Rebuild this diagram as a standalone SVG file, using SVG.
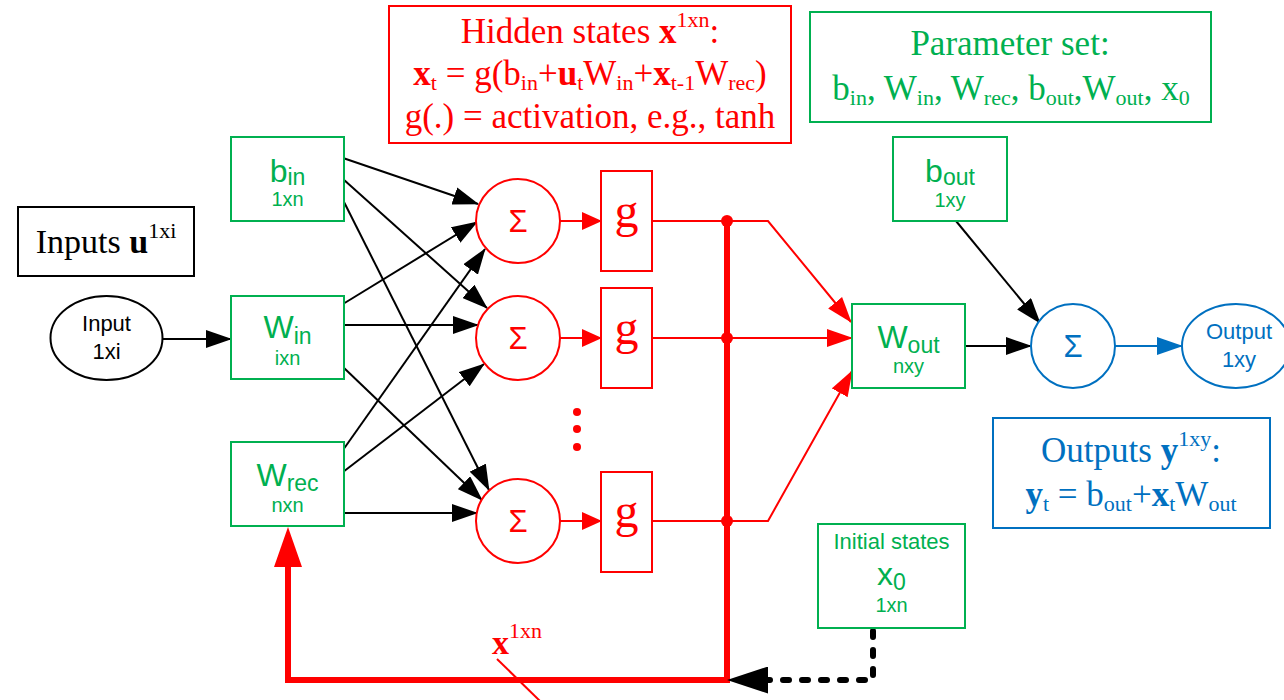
<svg xmlns="http://www.w3.org/2000/svg" width="1284" height="700" viewBox="0 0 1284 700">
<defs>
<style>
.gbox{fill:#fff;stroke:#00B050;stroke-width:2}
.rbox{fill:#fff;stroke:#FF0000;stroke-width:2}
.bbox{fill:#fff;stroke:#0070C0;stroke-width:2}
.kbox{fill:#fff;stroke:#000;stroke-width:2}
.sans{font-family:"Liberation Sans",Arial,sans-serif}
.serif{font-family:"Liberation Serif","Times New Roman",serif}
.g{fill:#00B050}
.r{fill:#FF0000}
.b{fill:#0070C0}
.k{fill:#000}
.kl{stroke:#000;stroke-width:2;fill:none}
.rl{stroke:#FF0000;stroke-width:2;fill:none}
.bl{stroke:#0070C0;stroke-width:2;fill:none}
.bd{font-weight:bold}
.mid{text-anchor:middle}
</style>
<marker id="ak" markerUnits="userSpaceOnUse" markerWidth="26" markerHeight="18" refX="25" refY="9" orient="auto"><path d="M0,0L26,9L0,18z" fill="#000"/></marker>
<marker id="ar" markerUnits="userSpaceOnUse" markerWidth="26" markerHeight="18" refX="25" refY="9" orient="auto"><path d="M0,0L26,9L0,18z" fill="#FF0000"/></marker>
<marker id="ars" markerUnits="userSpaceOnUse" markerWidth="20" markerHeight="18" refX="19" refY="9" orient="auto"><path d="M0,0L20,9L0,18z" fill="#FF0000"/></marker>
<marker id="ab" markerUnits="userSpaceOnUse" markerWidth="26" markerHeight="18" refX="25" refY="9" orient="auto"><path d="M0,0L26,9L0,18z" fill="#0070C0"/></marker>
<marker id="aR" markerUnits="userSpaceOnUse" markerWidth="40" markerHeight="28" refX="0" refY="14" orient="auto"><path d="M0,0L40,14L0,28z" fill="#FF0000"/></marker>
<marker id="aK" markerUnits="userSpaceOnUse" markerWidth="41" markerHeight="27" refX="0" refY="13.5" orient="auto"><path d="M0,0L41,13.5L0,27z" fill="#000"/></marker>
</defs>
<rect x="0" y="0" width="1284" height="700" fill="#fff"/>

<g id="connectors">
  <line class="kl" x1="162" y1="339" x2="231" y2="339" marker-end="url(#ak)"/>
  <line class="kl" x1="343" y1="158" x2="478" y2="204" marker-end="url(#ak)"/>
  <line class="kl" x1="343" y1="179" x2="487" y2="308" marker-end="url(#ak)"/>
  <line class="kl" x1="343" y1="200" x2="489" y2="490" marker-end="url(#ak)"/>
  <line class="kl" x1="343" y1="304" x2="477" y2="222" marker-end="url(#ak)"/>
  <line class="kl" x1="343" y1="325" x2="478" y2="325" marker-end="url(#ak)"/>
  <line class="kl" x1="343" y1="367" x2="482" y2="500" marker-end="url(#ak)"/>
  <line class="kl" x1="343" y1="450" x2="485" y2="249" marker-end="url(#ak)"/>
  <line class="kl" x1="343" y1="472" x2="484" y2="364" marker-end="url(#ak)"/>
  <line class="kl" x1="343" y1="513" x2="477" y2="513" marker-end="url(#ak)"/>

  <line class="rl" x1="560" y1="221" x2="601" y2="221" marker-end="url(#ars)"/>
  <line class="rl" x1="560" y1="338" x2="601" y2="338" marker-end="url(#ars)"/>
  <line class="rl" x1="560" y1="521" x2="601" y2="521" marker-end="url(#ars)"/>

  <polyline class="rl" points="652,221 768,221 851,322" marker-end="url(#ar)"/>
  <line class="rl" x1="652" y1="338" x2="852" y2="338" marker-end="url(#ar)"/>
  <polyline class="rl" points="652,521 768,521 852,371" marker-end="url(#ar)"/>

  <path d="M727,221V680H288V567" fill="none" stroke="#FF0000" stroke-width="6" marker-end="url(#aR)"/>
  <circle cx="727" cy="221" r="6" fill="#FF0000"/>
  <circle cx="727" cy="338" r="6" fill="#FF0000"/>
  <circle cx="727" cy="521" r="6" fill="#FF0000"/>

  <path d="M873,631V680H768" fill="none" stroke="#000" stroke-width="6" stroke-dasharray="6,13" stroke-linecap="round" marker-end="url(#aK)"/>

  <line class="kl" x1="965" y1="346" x2="1031" y2="346" marker-end="url(#ak)"/>
  <line class="kl" x1="956" y1="221" x2="1040" y2="323" marker-end="url(#ak)"/>
  <line class="bl" x1="1115" y1="346" x2="1182" y2="346" marker-end="url(#ab)"/>

  <line class="rl" x1="497" y1="659" x2="541" y2="702"/>
  <text class="serif r" x="492" y="654" font-size="34"><tspan class="bd">x</tspan><tspan font-size="22" dy="-16">1xn</tspan></text>
</g>

<g id="hidden-states">
  <rect class="rbox" x="389" y="6" width="402" height="137"/>
  <text class="serif r mid" x="590" y="43" font-size="35">Hidden states <tspan class="bd">x</tspan><tspan font-size="22" dy="-16">1xn</tspan><tspan dy="16">:</tspan></text>
  <text class="serif r mid" x="590" y="85" font-size="35"><tspan class="bd">x</tspan><tspan font-size="22" dy="5">t</tspan><tspan dy="-5"> = g(b</tspan><tspan font-size="22" dy="5">in</tspan><tspan dy="-5">+</tspan><tspan class="bd">u</tspan><tspan font-size="22" dy="5">t</tspan><tspan dy="-5">W</tspan><tspan font-size="22" dy="5">in</tspan><tspan dy="-5">+</tspan><tspan class="bd">x</tspan><tspan font-size="22" dy="5">t-1</tspan><tspan dy="-5">W</tspan><tspan font-size="22" dy="5">rec</tspan><tspan dy="-5">)</tspan></text>
  <text class="serif r mid" x="590" y="128" font-size="35">g(.) = activation, e.g., tanh</text>
</g>

<g id="parameter-set">
  <rect class="gbox" x="810" y="12" width="401" height="110"/>
  <text class="serif g mid" x="1010" y="55" font-size="35">Parameter set:</text>
  <text class="serif g mid" x="1011" y="100" font-size="35">b<tspan font-size="22" dy="5">in</tspan><tspan dy="-5">, W</tspan><tspan font-size="22" dy="5">in</tspan><tspan dy="-5">, W</tspan><tspan font-size="22" dy="5">rec</tspan><tspan dy="-5">, b</tspan><tspan font-size="22" dy="5">out</tspan><tspan dy="-5">,W</tspan><tspan font-size="22" dy="5">out</tspan><tspan dy="-5">, x</tspan><tspan font-size="22" dy="5">0</tspan></text>
</g>

<g id="inputs-label">
  <rect class="kbox" x="18" y="207" width="176" height="69"/>
  <text class="serif k mid" x="106" y="253" font-size="34">Inputs <tspan class="bd">u</tspan><tspan font-size="22" dy="-15">1xi</tspan></text>
</g>

<g id="input">
  <ellipse cx="106.5" cy="338" rx="56" ry="42" fill="#fff" stroke="#000" stroke-width="2"/>
  <text class="sans k mid" x="106.5" y="331" font-size="22">Input</text>
  <text class="sans k mid" x="106.5" y="359" font-size="22">1xi</text>
</g>

<g id="b-in">
  <rect class="gbox" x="231" y="137" width="113" height="84"/>
  <text class="sans g mid" x="287.5" y="182" font-size="32">b<tspan font-size="23" dy="3">in</tspan></text>
  <text class="sans g mid" x="287.5" y="206" font-size="20">1xn</text>
</g>

<g id="w-in">
  <rect class="gbox" x="231" y="296" width="113" height="83"/>
  <text class="sans g mid" x="287.5" y="338" font-size="32">W<tspan font-size="23" dy="6">in</tspan></text>
  <text class="sans g mid" x="287.5" y="365" font-size="20">ixn</text>
</g>

<g id="w-rec">
  <rect class="gbox" x="231" y="442" width="113" height="84"/>
  <text class="sans g mid" x="287.5" y="486" font-size="32">W<tspan font-size="23" dy="5">rec</tspan></text>
  <text class="sans g mid" x="287.5" y="512" font-size="20">nxn</text>
</g>

<g id="sum1">
  <circle cx="518" cy="221" r="42" fill="#fff" stroke="#FF0000" stroke-width="2"/>
  <text class="sans r mid" x="518" y="232" font-size="31">Σ</text>
</g>
<g id="sum2">
  <circle cx="518" cy="338" r="42" fill="#fff" stroke="#FF0000" stroke-width="2"/>
  <text class="sans r mid" x="518" y="349" font-size="31">Σ</text>
</g>
<g id="sum3">
  <circle cx="518" cy="521" r="42" fill="#fff" stroke="#FF0000" stroke-width="2"/>
  <text class="sans r mid" x="518" y="532" font-size="31">Σ</text>
</g>

<g id="g1">
  <rect class="rbox" x="601" y="171" width="51" height="100"/>
  <text class="serif r mid" x="626.5" y="227" font-size="48">g</text>
</g>
<g id="g2">
  <rect class="rbox" x="601" y="288" width="51" height="100"/>
  <text class="serif r mid" x="626.5" y="344" font-size="48">g</text>
</g>
<g id="g3">
  <rect class="rbox" x="601" y="472" width="51" height="100"/>
  <text class="serif r mid" x="626.5" y="527" font-size="48">g</text>
</g>

<g id="ellipsis">
  <circle cx="577" cy="412" r="4" fill="#FF0000"/>
  <circle cx="577" cy="429" r="4" fill="#FF0000"/>
  <circle cx="577" cy="447" r="4" fill="#FF0000"/>
</g>

<g id="b-out">
  <rect class="gbox" x="893" y="137" width="114" height="84"/>
  <text class="sans g mid" x="950" y="182" font-size="32">b<tspan font-size="23" dy="3">out</tspan></text>
  <text class="sans g mid" x="950" y="207" font-size="20">1xy</text>
</g>

<g id="w-out">
  <rect class="gbox" x="852" y="304" width="113" height="84"/>
  <text class="sans g mid" x="908.5" y="348" font-size="32">W<tspan font-size="23" dy="5">out</tspan></text>
  <text class="sans g mid" x="908.5" y="373" font-size="20">nxy</text>
</g>

<g id="sum-out">
  <circle cx="1073" cy="346" r="42" fill="#fff" stroke="#0070C0" stroke-width="2"/>
  <text class="sans b mid" x="1073" y="357" font-size="31">Σ</text>
</g>

<g id="output">
  <ellipse cx="1236" cy="346" rx="54" ry="42" fill="#fff" stroke="#0070C0" stroke-width="2"/>
  <text class="sans b mid" x="1239" y="339" font-size="22">Output</text>
  <text class="sans b mid" x="1239" y="367" font-size="22">1xy</text>
</g>

<g id="outputs-label">
  <rect class="bbox" x="993" y="418" width="277" height="110"/>
  <text class="serif b mid" x="1131" y="462" font-size="35">Outputs <tspan class="bd">y</tspan><tspan font-size="22" dy="-16">1xy</tspan><tspan dy="16">:</tspan></text>
  <text class="serif b mid" x="1131" y="506" font-size="35"><tspan class="bd">y</tspan><tspan font-size="22" dy="5">t</tspan><tspan dy="-5"> = b</tspan><tspan font-size="22" dy="5">out</tspan><tspan dy="-5">+</tspan><tspan class="bd">x</tspan><tspan font-size="22" dy="5">t</tspan><tspan dy="-5">W</tspan><tspan font-size="22" dy="5">out</tspan></text>
</g>

<g id="initial-states">
  <rect class="gbox" x="818" y="524" width="147" height="104"/>
  <text class="sans g mid" x="891.5" y="549" font-size="22">Initial states</text>
  <text class="sans g mid" x="891.5" y="585" font-size="32">x<tspan font-size="23" dy="5">0</tspan></text>
  <text class="sans g mid" x="891.5" y="612" font-size="20">1xn</text>
</g>
</svg>
